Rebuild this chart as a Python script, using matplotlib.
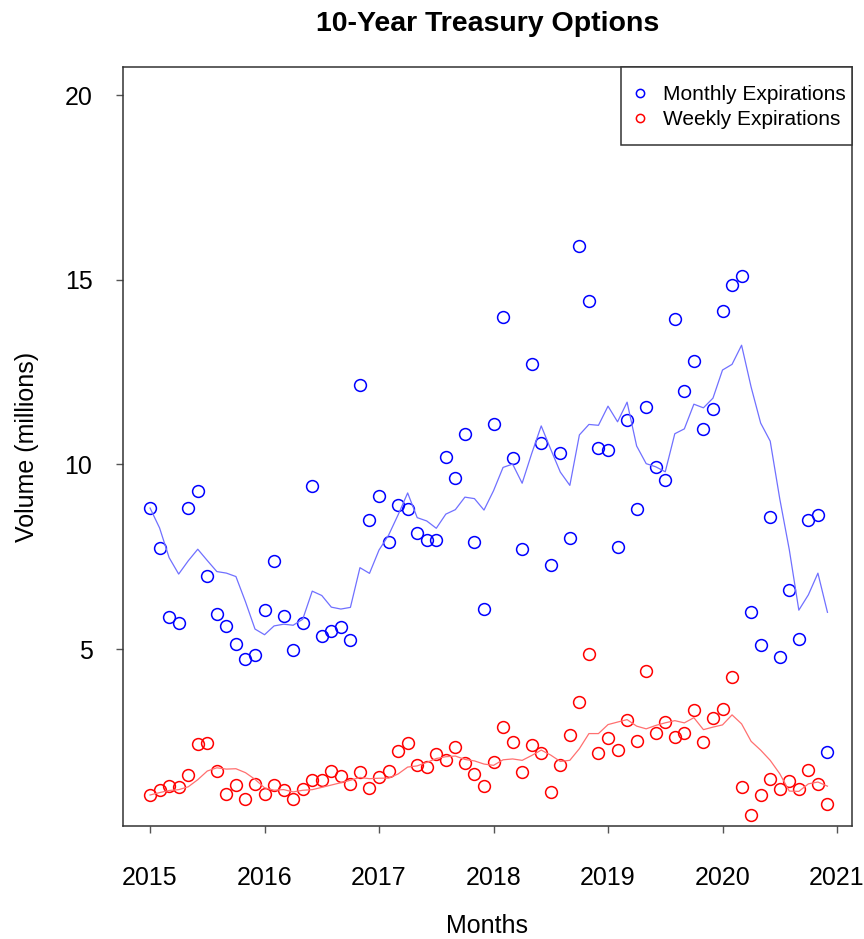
import numpy as np
import pandas as pd
import matplotlib
matplotlib.use("Agg")
import matplotlib.pyplot as plt
from matplotlib.patches import Rectangle

plt.rcParams['font.family'] = ['Liberation Sans', 'DejaVu Sans']

# meses desde 2015-01 hasta 2020-12
years = np.repeat(np.arange(2015, 2021), 12)
months = np.tile(np.arange(1, 13), 6)

# volumen en millones
monthly = [8.82, 7.74, 5.87, 5.70, 8.82, 9.28, 6.98, 5.95, 5.62, 5.14, 4.73, 4.84,
           6.06, 7.38, 5.90, 4.97, 5.70, 9.41, 5.35, 5.49, 5.59, 5.24, 12.15, 8.49,
           9.14, 7.90, 8.90, 8.79, 8.14, 7.95, 7.95, 10.20, 9.63, 10.82, 7.90, 6.09,
           11.09, 13.99, 10.17, 7.71, 12.72, 10.58, 7.28, 10.30, 8.01, 15.91, 14.42, 10.44,
           10.39, 7.76, 11.20, 8.79, 11.55, 9.93, 9.58, 13.94, 11.99, 12.80, 10.96, 11.50,
           14.15, 14.86, 15.10, 6.00, 5.11, 8.57, 4.79, 6.59, 5.27, 8.49, 8.63, 2.21]

weekly = [1.05, 1.18, 1.29, 1.26, 1.58, 2.43, 2.46, 1.70, 1.08, 1.32, 0.94, 1.35,
          1.08, 1.31, 1.18, 0.94, 1.21, 1.45, 1.45, 1.69, 1.56, 1.34, 1.67, 1.24,
          1.53, 1.70, 2.24, 2.46, 1.86, 1.81, 2.16, 1.99, 2.35, 1.91, 1.62, 1.30,
          1.95, 2.89, 2.49, 1.68, 2.41, 2.18, 1.13, 1.86, 2.68, 3.57, 4.86, 2.18,
          2.59, 2.27, 3.08, 2.51, 4.42, 2.73, 3.02, 2.62, 2.72, 3.35, 2.48, 3.14,
          3.38, 4.25, 1.26, 0.51, 1.05, 1.48, 1.21, 1.43, 1.21, 1.73, 1.35, 0.81]

df = pd.DataFrame({"t": years + (months - 1) / 12.0,
                   "monthly": monthly, "weekly": weekly})
# media movil de 6 meses
df["m_avg"] = df["monthly"].rolling(6, min_periods=1).mean()
df["w_avg"] = df["weekly"].rolling(6, min_periods=1).mean()

fig = plt.figure(figsize=(8.64, 9.39), dpi=100)
ax = fig.add_axes([0.1424, 0.1203, 0.8437, 0.8083])

ax.plot(df["t"], df["monthly"], "o", mfc="none", mec="blue", ms=8.5, mew=1.1,
        label="Monthly Expirations")
ax.plot(df["t"], df["weekly"], "o", mfc="none", mec="red", ms=8.5, mew=1.1,
        label="Weekly Expirations")
ax.plot(df["t"], df["m_avg"], color="#7070ff", lw=0.9)
ax.plot(df["t"], df["w_avg"], color="#ff7070", lw=0.9)

ax.set_xlim(2014.764, 2021.131)
ax.set_ylim(0.21, 20.76)
ax.set_xticks(range(2015, 2022))
ax.set_yticks([5, 10, 15, 20])
ax.tick_params(labelsize=18, length=5, width=1, color="#555555")
ax.tick_params(axis="x", pad=24)
ax.tick_params(axis="y", pad=17)
for s in ax.spines.values():
    s.set_linewidth(1.1)
    s.set_color("#333333")

fig.text(0.5642, 0.974, "10-Year Treasury Options", ha="center", va="center",
         fontsize=20.5, fontweight="bold")
fig.text(0.5642, 0.014, "Months", ha="center", va="center", fontsize=18)
fig.text(0.031, 0.5244, "Volume (millions)", ha="center", va="center",
         rotation=90, fontsize=18)

# caja de la leyenda (estilo R)
ax.add_patch(Rectangle((0.683, 0.8972), 0.317, 0.1028, transform=ax.transAxes,
                       facecolor="white", edgecolor="#333333", lw=1.1,
                       zorder=5, clip_on=False))
leg = ax.legend(loc="upper left", bbox_to_anchor=(0.6955, 0.9765), fontsize=15,
                frameon=False, borderaxespad=0, borderpad=0, markerscale=0.7,
                handlelength=1.0, handletextpad=0.6, labelspacing=0.3)
leg.set_zorder(6)

plt.savefig("out.png", dpi=100)
